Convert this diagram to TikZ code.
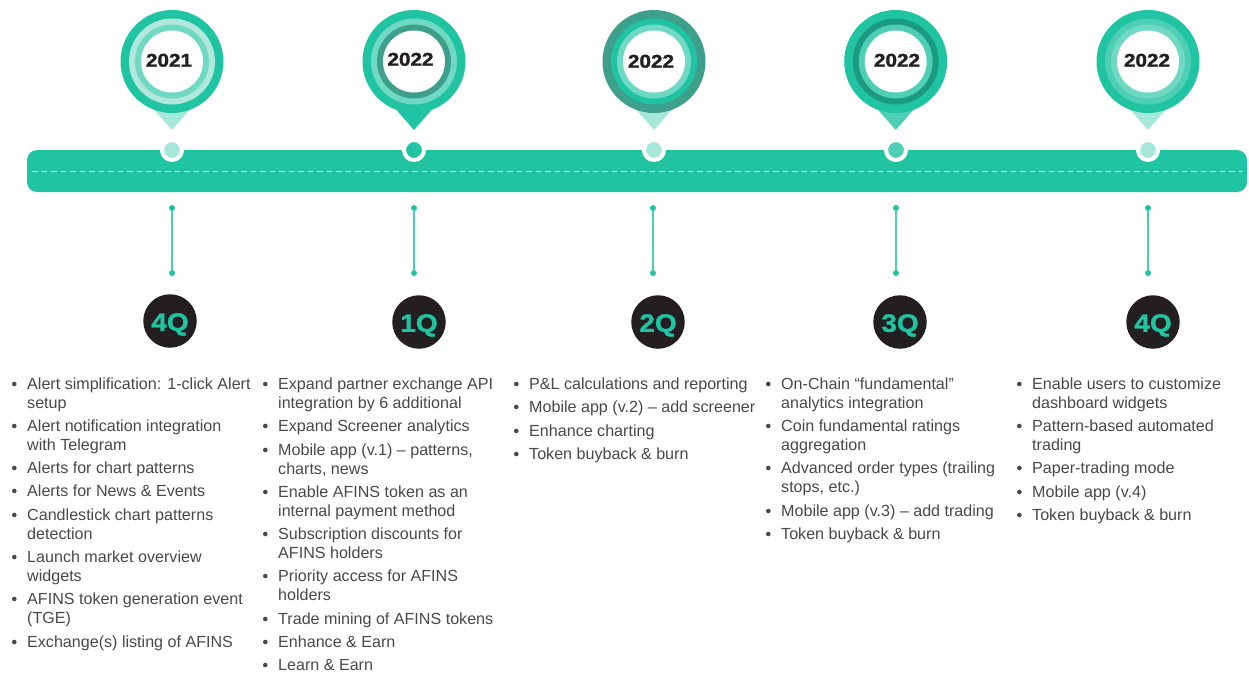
\documentclass[tikz,border=0pt]{standalone}
\usepackage{fontspec}
\setmainfont{Liberation Sans}
\newfontfamily\yearfont[FakeStretch=1.12,BoldFeatures={FakeStretch=1.12,FakeBold=1.5}]{Liberation Sans}
\definecolor{teal}{HTML}{20C4A2}
\definecolor{tealB}{HTML}{6FD9C3}
\definecolor{tealC}{HTML}{B2E8DC}
\definecolor{tealD}{HTML}{A5E8D9}
\definecolor{tealM}{HTML}{4ECFB4}
\definecolor{darkT}{HTML}{3E9F8B}
\definecolor{darkU}{HTML}{1B9A80}
\definecolor{ink}{HTML}{231F20}
\definecolor{txt}{HTML}{484848}
\tikzset{
  x=1pt,y=-1pt,
  itemtxt/.style={anchor=north west,inner sep=0pt,align=left,text=txt,font=\fontsize{16.1}{19}\selectfont},
  yeartxt/.style={inner sep=0pt,text=ink,font=\fontsize{18.5}{20}\yearfont\bfseries},
  qbadge/.style={circle,fill=ink,minimum size=53.5pt,inner sep=0pt,text=teal,text height=19.5pt,text depth=0pt,font=\fontsize{25}{26}\yearfont\bfseries},
  hub/.style={circle,draw=white,line width=4pt,minimum size=20pt,inner sep=0pt},
  enddot/.style={circle,fill=teal,minimum size=6pt,inner sep=0pt},
  stemline/.style={draw=tealM,line width=1.3pt},
}
\newcommand{\bul}[4]{%
  \fill[txt] (#2-12.7,#3) circle (2.3);
  \node[itemtxt] (#1) at (#2,#3-7.6) {\strut #4};}
% \pin{name}{x}{y}{r1 colour}{r2 colour}{r3 colour}{tail colour}
\newcommand{\pin}[7]{%
  \fill[#7] (#2-25,#3+40) -- (#2,#3+68.5) -- (#2+25,#3+40) -- cycle;
  \fill[#4] (#2,#3) circle (51.5);
  \fill[#5] (#2,#3) circle (43);
  \fill[#6] (#2,#3) circle (37);
  \node[circle,fill=white,minimum size=62pt,inner sep=0pt] (#1) at (#2,#3) {};}
\begin{document}
\begin{tikzpicture}
\useasboundingbox (0,0) rectangle (1249,675);
% bar
\fill[teal,rounded corners=10pt] (27,150) rectangle (1247,192);
\coordinate (dashL) at (32,171);
\coordinate (dashR) at (1243,171);
\draw[white,line width=1pt,dash pattern=on 5.5pt off 4pt,opacity=.85] (dashL) -- (dashR);
% hubs
\node[hub,fill=tealD] (h1) at (172,150) {};
\node[hub,fill=teal] (h2) at (414,150) {};
\node[hub,fill=tealD] (h3) at (654,150) {};
\node[hub,fill=tealM] (h4) at (896,150) {};
\node[hub,fill=tealD] (h5) at (1148,150) {};
% pins
\pin{p1}{172}{61.5}{teal}{tealC}{tealB}{tealD}
\pin{p2}{414}{61.5}{teal}{tealB}{darkT}{teal}
\pin{p3}{654}{61.5}{darkT}{teal}{tealB}{tealD}
\pin{p4}{895.7}{61.5}{teal}{darkU}{tealM}{tealM}
\pin{p5}{1148}{61.5}{teal}{tealM}{tealB}{tealD}
\node[yeartxt] (y1) at (169,60.3) {2021};
\node[yeartxt] (y2) at (410.5,59.3) {2022};
\node[yeartxt] (y3) at (651,61.3) {2022};
\node[yeartxt] (y4) at (897,60.3) {2022};
\node[yeartxt] (y5) at (1147,60.3) {2022};
% stems
\foreach \n/\x/\ya/\yb in {1/172/208/273,2/414/208/273,3/653/208/273,4/896/208/273,5/1148/208/273}{
  \node[enddot] (sa\n) at (\x,\ya) {};
  \node[enddot] (sb\n) at (\x,\yb) {};
  \draw[stemline] (sa\n) -- (sb\n);
}
% quarters
\node[qbadge] (q1) at (170,321) {4Q};
\node[qbadge] (q2) at (419,322) {1Q};
\node[qbadge] (q3) at (658,322) {2Q};
\node[qbadge] (q4) at (900,322) {3Q};
\node[qbadge] (q5) at (1153,322) {4Q};
% column 1
\bul{a1}{27}{384}{Alert simplification: 1-click Alert\\setup}
\bul{a2}{27}{426}{Alert notification integration\\with Telegram}
\bul{a3}{27}{468}{Alerts for chart patterns}
\bul{a4}{27}{491}{Alerts for News \& Events}
\bul{a5}{27}{515}{Candlestick chart patterns\\detection}
\bul{a6}{27}{557}{Launch market overview\\widgets}
\bul{a7}{27}{599}{AFINS token generation event\\(TGE)}
\bul{a8}{27}{642}{Exchange(s) listing of AFINS}
% column 2
\bul{b1}{278}{384}{Expand partner exchange API\\integration by 6 additional}
\bul{b2}{278}{426}{Expand Screener analytics}
\bul{b3}{278}{450}{Mobile app (v.1) – patterns,\\charts, news}
\bul{b4}{278}{492}{Enable AFINS token as an\\internal payment method}
\bul{b5}{278}{534}{Subscription discounts for\\AFINS holders}
\bul{b6}{278}{576}{Priority access for AFINS\\holders}
\bul{b7}{278}{619}{Trade mining of AFINS tokens}
\bul{b8}{278}{642}{Enhance \& Earn}
\bul{b9}{278}{665}{Learn \& Earn}
% column 3
\bul{c1}{529}{384}{P\&L calculations and reporting}
\bul{c2}{529}{407}{Mobile app (v.2) – add screener}
\bul{c3}{529}{431}{Enhance charting}
\bul{c4}{529}{454}{Token buyback \& burn}
% column 4
\bul{d1}{781}{384}{On-Chain “fundamental”\\analytics integration}
\bul{d2}{781}{426}{Coin fundamental ratings\\aggregation}
\bul{d3}{781}{468}{Advanced order types (trailing\\stops, etc.)}
\bul{d4}{781}{511}{Mobile app (v.3) – add trading}
\bul{d5}{781}{534}{Token buyback \& burn}
% column 5
\bul{e1}{1032}{384}{Enable users to customize\\dashboard widgets}
\bul{e2}{1032}{426}{Pattern-based automated\\trading}
\bul{e3}{1032}{468}{Paper-trading mode}
\bul{e4}{1032}{492}{Mobile app (v.4)}
\bul{e5}{1032}{515}{Token buyback \& burn}
\end{tikzpicture}
\end{document}
